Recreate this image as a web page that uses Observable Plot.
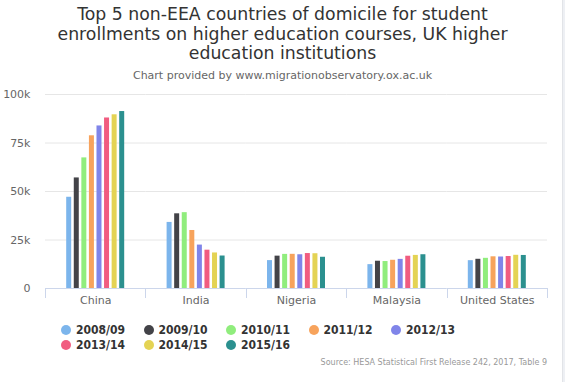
<!DOCTYPE html>
<html>
<head>
<meta charset="utf-8">
<script src="https://cdn.jsdelivr.net/npm/d3@7"></script>
<script src="https://cdn.jsdelivr.net/npm/@observablehq/plot@0.6"></script>
<style>
  html, body { margin: 0; padding: 0; background: #fff; }
  body { width: 565px; height: 382px; position: relative; overflow: hidden; font-family: "DejaVu Sans", sans-serif; }
  #title { position: absolute; left: 0; top: 5px; width: 565px; text-align: center; font-size: 17.3px; line-height: 19.5px; color: #333; }
  #subtitle { position: absolute; left: 0; top: 69px; width: 565px; text-align: center; font-size: 11px; color: #666; }
  #chart { position: absolute; left: 0; top: 84px; }
  #legend { position: absolute; left: 61px; top: 323px; width: 420px; display: flex; flex-wrap: wrap; }
  .item { width: 82.5px; height: 14.5px; display: flex; align-items: center; font-family: "DejaVu Sans Condensed", "DejaVu Sans", sans-serif; font-size: 12px; font-weight: bold; color: #333; }
  .dot { width: 10px; height: 10px; border-radius: 50%; margin-right: 5px; flex: none; }
  #source { position: absolute; right: 18px; top: 358px; font-size: 8px; color: #999; }
  #edge { position: absolute; left: 562px; top: 0; width: 3px; height: 382px; background: #eef0f4; border-left: 1px solid #e2e4e8; }
</style>
</head>
<body>
<div id="title">Top 5 non-EEA countries of domicile for student<br>enrollments on higher education courses, UK higher<br>education institutions</div>
<div id="subtitle">Chart provided by www.migrationobservatory.ox.ac.uk</div>
<div id="chart"></div>
<div id="legend"></div>
<div id="source">Source: HESA Statistical First Release 242, 2017, Table 9</div>
<div id="edge"></div>
<script>
const countries = ["China", "India", "Nigeria", "Malaysia", "United States"];
const years = ["2008/09", "2009/10", "2010/11", "2011/12", "2012/13", "2013/14", "2014/15", "2015/16"];
const colors = ["#7cb5ec", "#434348", "#90ed7d", "#f7a35c", "#8085e9", "#f15c80", "#e4d354", "#2b908f"];
const china    = [47035, 56990, 67325, 78715, 83790, 87895, 89540, 91215];
const india    = [34065, 38500, 39090, 29900, 22385, 19750, 18320, 16745];
const nigeria  = [14380, 16680, 17585, 17620, 17395, 18020, 17920, 16100];
const malaysia = [12300, 14060, 13900, 14545, 15015, 16635, 17060, 17405];
const usa      = [14345, 15060, 15555, 16335, 16235, 16485, 17115, 17030];
const yTicks = [0, 25000, 50000, 75000, 100000];

const series = [china, india, nigeria, malaysia, usa];
const data = [];
countries.forEach((c, i) => years.forEach((y, j) => data.push({country: c, year: y, value: series[i][j]})));

const chart = Plot.plot({
  width: 565,
  height: 226,
  marginTop: 10,
  marginBottom: 22,
  marginLeft: 45,
  marginRight: 18,
  style: { fontFamily: "DejaVu Sans, sans-serif", fontSize: "11px", color: "#666", background: "transparent" },
  fx: { domain: countries, paddingInner: 0, paddingOuter: 0, round: false, label: null },
  x: { domain: years, paddingInner: 0.34, paddingOuter: 2.8, round: false, axis: null },
  y: { domain: [0, 100000], ticks: yTicks, label: null },
  color: { domain: years, range: colors },
  marks: [
    Plot.gridY(yTicks.slice(1), { stroke: "#e6e6e6", strokeOpacity: 1 }),
    Plot.axisY(yTicks, { tickSize: 0, tickPadding: 15, tickFormat: d => d === 0 ? "0" : d / 1000 + "k", fill: "#666", fontSize: 11 }),
    Plot.axisFx({ anchor: "bottom", tickSize: 0, tickPadding: 8, fill: "#666", fontSize: 11, label: null }),
    Plot.barY(data, { fx: "country", x: "year", y: "value", fill: "year" }),
    Plot.ruleY([0], { stroke: "#ccd6eb", strokeOpacity: 1 })
  ]
});
document.getElementById("chart").appendChild(chart);

// category separator ticks derived from the fx scale
const fx = chart.scale("fx");
const ys = chart.scale("y");
const y0 = ys.apply(0);
const svg = d3.select(chart);
const edges = countries.map(c => fx.apply(c)).concat([fx.apply(countries[countries.length - 1]) + fx.step]);
svg.append("g").selectAll("line").data(edges).join("line")
  .attr("x1", d => Math.round(d) + 0.5).attr("x2", d => Math.round(d) + 0.5)
  .attr("y1", y0).attr("y2", y0 + 10)
  .attr("stroke", "#ccd6eb");

const legend = d3.select("#legend");
years.forEach((y, i) => {
  const it = legend.append("div").attr("class", "item");
  it.append("div").attr("class", "dot").style("background", colors[i]);
  it.append("span").text(y);
});
</script>
</body>
</html>
